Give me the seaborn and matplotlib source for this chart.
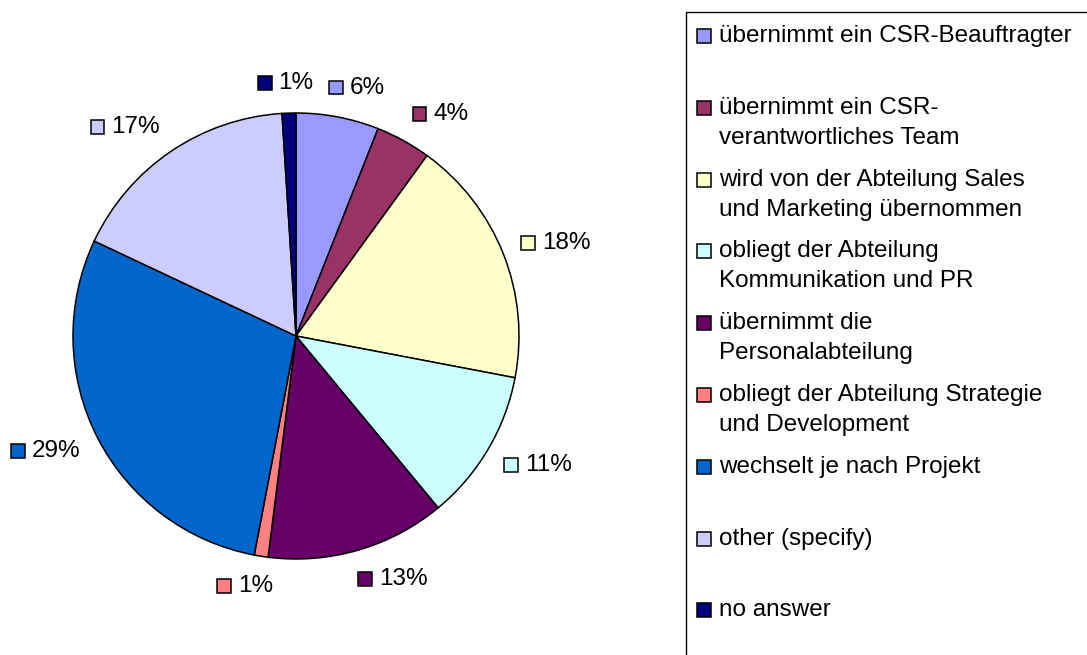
import matplotlib
matplotlib.use("Agg")
import matplotlib.pyplot as plt
import seaborn as sns
import numpy as np
from matplotlib.patches import Rectangle
from matplotlib.offsetbox import AnnotationBbox, HPacker, TextArea, DrawingArea

# Wer ist fuer CSR zustaendig? (Anteile in %)
categories = [
    "übernimmt ein CSR-Beauftragter",
    "übernimmt ein CSR-\nverantwortliches Team",
    "wird von der Abteilung Sales\nund Marketing übernommen",
    "obliegt der Abteilung\nKommunikation und PR",
    "übernimmt die\nPersonalabteilung",
    "obliegt der Abteilung Strategie\nund Development",
    "wechselt je nach Projekt",
    "other (specify)",
    "no answer",
]
shares = [6, 4, 18, 11, 13, 1, 29, 17, 1]
colors = ["#9999FF", "#993366", "#FFFFCC", "#CCFFFF", "#660066",
          "#FF8080", "#0066CC", "#CCCCFF", "#000080"]

sns.set_theme(style="white")
plt.rcParams['font.family'] = ['Liberation Sans', 'DejaVu Sans']
plt.rcParams['text.color'] = 'black'
FS = 17.5

W, H = 1087, 655
fig = plt.figure(figsize=(W / 100, H / 100), dpi=100)
ax = fig.add_axes([0, 0, 1, 1])
palette = sns.color_palette(colors)

wedges, _ = ax.pie(shares, colors=palette, startangle=90, counterclock=False,
                   wedgeprops=dict(edgecolor='black', linewidth=1.1))

# pie centre and radius in pixels
cx, cy, r = 296, 336, 223
ax.set_xlim(-cx / r, (W - cx) / r)
ax.set_ylim(-(H - cy) / r, cy / r)
ax.set_aspect('auto')
ax.axis('off')

# percentage labels with a little colour square, outside each wedge
for w, s, c in zip(wedges, shares, palette):
    mid = np.deg2rad((w.theta1 + w.theta2) / 2)
    ux, uy = np.cos(mid), np.sin(mid)
    da = DrawingArea(10, 10)
    da.add_artist(Rectangle((0, 0), 10, 10, facecolor=c, edgecolor='black', lw=1.1))
    ta = TextArea(f"{s}%", textprops=dict(fontsize=FS, color='black'))
    box = HPacker(children=[da, ta], align='center', pad=0, sep=5)
    hx = np.clip(3 * ux, -1, 1)
    ab = AnnotationBbox(box, (1.085 * ux, 1.085 * uy),
                        box_alignment=(0.5 - 0.5 * hx, 0.5 - 0.5 * uy),
                        frameon=False, pad=0)
    ax.add_artist(ab)

# legend box (runs off the right and bottom edge like the original)
fx = lambda px: px / W
fy = lambda py: 1 - py / H
fig.add_artist(Rectangle((fx(686), fy(H + 10)), 1, fy(12) - fy(H + 10),
                         transform=fig.transFigure, fill=False,
                         edgecolor='black', lw=1.0))
for i, (lab, c) in enumerate(zip(categories, palette)):
    y = 36 + 71.8 * i
    fig.add_artist(Rectangle((fx(697), fy(y + 7)), 14 / W, 14 / H,
                             transform=fig.transFigure, facecolor=c,
                             edgecolor='black', lw=1.1))
    for j, line in enumerate(lab.split('\n')):
        fig.text(fx(719), fy(y + 30 * j), line, fontsize=FS,
                 va='center', ha='left', color='black')

fig.savefig('out.png', dpi=100)
